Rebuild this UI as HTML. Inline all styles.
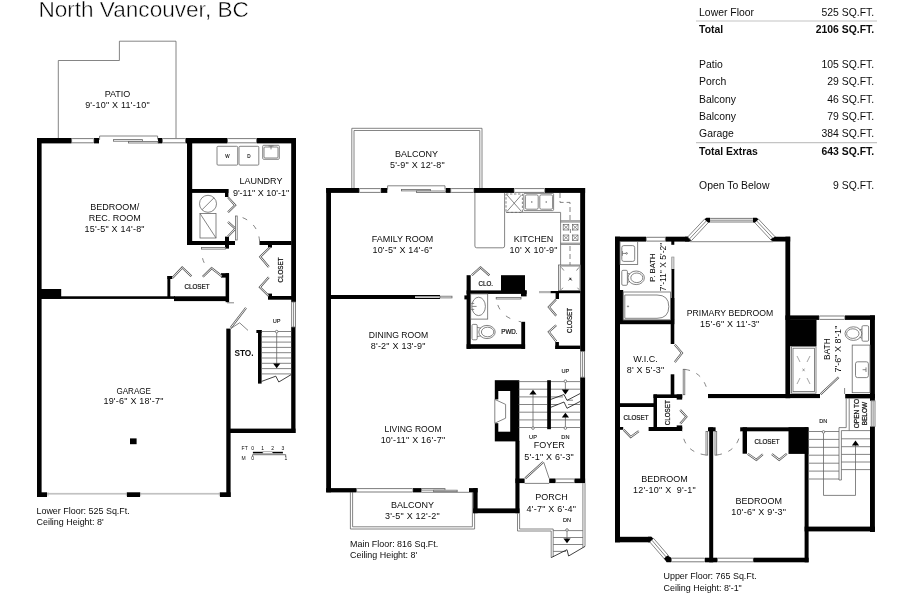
<!DOCTYPE html>
<html>
<head>
<meta charset="utf-8">
<title>Floor Plan</title>
<style>
html,body{margin:0;padding:0;background:#fff;}
body{width:910px;height:606px;overflow:hidden;position:relative;color:#fff;font-size:1px;line-height:1px;font-family:"Liberation Sans",sans-serif;}
svg{position:absolute;left:0;top:0;display:block;will-change:transform;opacity:0.999;}
svg text{font-family:"Liberation Sans",sans-serif;fill:#0c0c0c;}
.w{fill:#000;}
.t{fill:none;stroke:#666;stroke-width:0.8;}
.tw{fill:#fff;stroke:#666;stroke-width:0.8;}
.wn{fill:#fff;stroke:#444;stroke-width:0.7;}
.lf{fill:none;stroke:#555;stroke-width:2.1;stroke-linejoin:miter;}
.lw{fill:none;stroke:#fff;stroke-width:0.9;stroke-linejoin:miter;}
.k{fill:none;stroke:#111;stroke-width:0.9;}
.d{fill:none;stroke:#666;stroke-width:0.8;stroke-dasharray:3 3;}
.r{font-size:9px;text-anchor:middle;}
.rd{font-size:9px;text-anchor:middle;letter-spacing:0.22px;}
.s{font-size:7.2px;text-anchor:middle;stroke:#1a1a1a;stroke-width:0.22;}
.x{font-size:5.6px;text-anchor:middle;stroke:#1a1a1a;stroke-width:0.12;}
.c{font-size:9.6px;}
.tb{font-size:11.2px;}
.tr{font-size:11.2px;text-anchor:end;}
.b{font-weight:bold;}
</style>
</head>
<body>
<svg width="910" height="606" viewBox="0 0 910 606">
<rect x="0" y="0" width="910" height="606" fill="#fff"/>

<!-- TITLE -->
<text x="38.4" y="17.1" font-size="21.2" textLength="210.4" lengthAdjust="spacingAndGlyphs" style="fill:#000;stroke:#fff;stroke-width:0.45">North Vancouver, BC</text>

<!-- TABLE -->
<g id="table">
<line x1="696" y1="21" x2="877" y2="21" stroke="#c4c4c4" stroke-width="1.2"/>
<line x1="696" y1="142.7" x2="877" y2="142.7" stroke="#c4c4c4" stroke-width="1.2"/>
<g transform="scale(0.93,1)">
<text class="tb" x="751.7" y="16">Lower Floor</text><text class="tr" x="939.9" y="16">525 SQ.FT.</text>
<text class="tb b" x="751.7" y="33.5">Total</text><text class="tr b" x="939.9" y="33.5">2106 SQ.FT.</text>
<text class="tb" x="751.7" y="67.7">Patio</text><text class="tr" x="939.9" y="67.7">105 SQ.FT.</text>
<text class="tb" x="751.7" y="85.4">Porch</text><text class="tr" x="939.9" y="85.4">29 SQ.FT.</text>
<text class="tb" x="751.7" y="102.6">Balcony</text><text class="tr" x="939.9" y="102.6">46 SQ.FT.</text>
<text class="tb" x="751.7" y="119.9">Balcony</text><text class="tr" x="939.9" y="119.9">79 SQ.FT.</text>
<text class="tb" x="751.7" y="137.3">Garage</text><text class="tr" x="939.9" y="137.3">384 SQ.FT.</text>
<text class="tb b" x="751.7" y="155.2">Total Extras</text><text class="tr b" x="939.9" y="155.2">643 SQ.FT.</text>
<text class="tb" x="751.7" y="189.1">Open To Below</text><text class="tr" x="939.9" y="189.1">9 SQ.FT.</text>
</g>
</g>

<g id="lower">
<!-- patio -->
<polyline class="t" points="58.3,138 58.3,60.5 119.4,60.5 119.4,41.2 176,41.2 176,138"/>
<!-- exterior walls -->
<rect class="w" x="37" y="138" width="4.6" height="359"/>
<rect class="w" x="37" y="138" width="34.6" height="5.4"/>
<rect class="w" x="94" y="138" width="5" height="5.4"/>
<rect class="w" x="158" y="138" width="4.4" height="5.4"/>
<rect class="w" x="185.5" y="138" width="42" height="5.4"/>
<rect class="w" x="256.6" y="138" width="39.4" height="5.4"/>
<rect class="w" x="291.2" y="138" width="4.8" height="164"/>
<rect class="w" x="291.2" y="327" width="4.3" height="106"/>
<!-- windows top -->
<rect class="wn" rx="0.8" x="71.6" y="138.6" width="22.4" height="4.2"/>
<rect class="wn" rx="0.8" x="162.4" y="138.6" width="23.1" height="4.2"/>
<rect class="wn" rx="0.8" x="227.5" y="138.6" width="29.1" height="4.2"/>
<!-- sliding door -->
<polyline class="t" points="99,139.5 99.6,139.5 99.6,136 157.6,136 157.6,139.5"/>
<rect class="tw" x="113.5" y="139.6" width="29" height="1.6"/>
<rect class="tw" x="128.5" y="141.4" width="29.5" height="1.6"/>
<!-- right window -->
<rect class="tw" x="291.7" y="302" width="3.8" height="25"/><line class="t" x1="293.6" y1="302" x2="293.6" y2="327"/>
<!-- interior -->
<rect class="w" x="187" y="138" width="5.2" height="107"/>
<rect class="w" x="192" y="189" width="36.4" height="3.9"/>
<rect class="w" x="225" y="189" width="3.4" height="8"/>
<rect class="w" x="187" y="241" width="48" height="4"/>
<rect class="w" x="225" y="236.6" width="4" height="12"/>
<rect class="w" x="259.5" y="241" width="32" height="4"/>
<rect class="w" x="268" y="244" width="4" height="3.6"/>
<rect class="w" x="268" y="296" width="24" height="3.7"/>
<rect class="w" x="268" y="293.6" width="4" height="4"/>
<rect class="w" x="167.4" y="276" width="2.9" height="21"/>
<rect class="w" x="167.4" y="276" width="5" height="3"/>
<rect class="w" x="225.6" y="273.2" width="3.5" height="29"/>
<rect class="w" x="221" y="273.2" width="8" height="4.4"/>
<rect class="w" x="174" y="296.3" width="55" height="4.8"/>
<rect class="w" x="41" y="296.3" width="134" height="2.6"/>
<rect class="w" x="41" y="289" width="20.2" height="9.8"/>
<rect class="w" x="226.3" y="328.6" width="4.3" height="168.4"/>
<rect class="w" x="37" y="492.3" width="10" height="4.7"/>
<rect class="w" x="127" y="492.3" width="13" height="4.7"/>
<rect class="w" x="220" y="492.3" width="10.6" height="4.7"/>
<rect class="w" x="130" y="438.4" width="6.6" height="5.8"/>
<rect class="w" x="230" y="428.6" width="65.5" height="4.4"/>
<rect class="w" x="258" y="330" width="3.6" height="53.6"/>
<rect class="w" x="256.4" y="330" width="5.2" height="3"/>
<!-- garage doors -->
<rect x="47" y="492.9" width="80" height="1.7" fill="#c2c2c2"/>
<rect x="140" y="492.9" width="80" height="1.7" fill="#c2c2c2"/>
<path class="t" d="M48,492.3 v4 M126.4,492.3 v4 M140.6,492.3 v4 M219.4,492.3 v4" style="stroke-width:0.6;stroke:#999"/>
<!-- washer/dryer/sink -->
<rect class="tw" x="217" y="146.3" width="20.7" height="18.8" rx="1"/>
<rect class="tw" x="239" y="146.3" width="19.8" height="18.8" rx="1"/>
<text class="x" x="227.3" y="157.6" style="font-size:4.6px">W</text>
<text class="x" x="249" y="157.6" style="font-size:4.6px">D</text>
<rect class="tw" x="262.7" y="145.3" width="16.6" height="14" rx="1"/>
<rect class="t" x="264" y="147" width="14" height="11" rx="1"/>
<path class="t" d="M268.5,146 h5 M271,146 v3.4"/>
<!-- water heater / furnace -->
<circle class="t" cx="208" cy="203.8" r="8.5"/>
<line class="t" x1="202" y1="209.8" x2="214" y2="197.8"/>
<rect class="t" x="200" y="213.5" width="16" height="24.5"/>
<line class="t" x1="200" y1="213.5" x2="216" y2="238"/>
<!-- mech bifold doors -->
<path class="lf" d="M228,197.4 L235.2,205.3 L228,212.2"/><path class="lw" d="M228,197.4 L235.2,205.3 L228,212.2"/><path class="lf" d="M228,222 L235.4,228.6 L227.8,236.6"/><path class="lw" d="M228,222 L235.4,228.6 L227.8,236.6"/>
<rect class="tw" x="235.4" y="216" width="1.8" height="24"/>
<!-- laundry door -->
<rect class="tw" x="201.5" y="247.4" width="24" height="1.7"/>
<path class="d" d="M201.5,249 Q 201.5,262 208,268" style="stroke-dasharray:0 9 5 20"/>
<path class="d" d="M242.6,217.6 Q 258,224 259.6,241" style="stroke-dasharray:5 8"/>
<!-- left closet bifold -->
<path class="lf" d="M172.6,277.8 L182.2,267.6 L191.4,276.2"/><path class="lw" d="M172.6,277.8 L182.2,267.6 L191.4,276.2"/><path class="lf" d="M202.8,276.8 L211.6,268.2 L221.8,276.2"/><path class="lw" d="M202.8,276.8 L211.6,268.2 L221.8,276.2"/>
<!-- right closet bifold -->
<path class="lf" d="M269.8,247.6 L260.2,256.8 L268.8,267"/><path class="lw" d="M269.8,247.6 L260.2,256.8 L268.8,267"/><path class="lf" d="M268.8,277.2 L259.9,287.2 L268.6,295.8"/><path class="lw" d="M268.8,277.2 L259.9,287.2 L268.6,295.8"/>
<!-- sto door -->
<path class="lf" d="M230.6,328 L246,307.8"/><path class="lw" d="M230.6,328 L246,307.8"/><path class="t" d="M231,328.4 l8.6,-5.6 l8.4,7.6"/><line class="t" x1="227" y1="302.8" x2="234" y2="302.8"/>
<!-- stairs -->
<path class="t" d="M261.6,331.5 H291.2 M261.6,336.8 H291.2 M261.6,342.1 H291.2 M261.6,347.4 H291.2 M261.6,352.7 H291.2 M261.6,358 H291.2 M261.6,363.3 H291.2 M261.6,368.6 H291.2 M261.6,373.9 H291.2"/>
<path class="k" d="M261.6,381.4 L275.8,376.2 L278.8,382 L291.2,374.6" style="stroke-width:0.8"/>
<line class="t" x1="276.7" y1="333" x2="276.7" y2="364"/>
<circle cx="276.7" cy="331.6" r="1.3" class="tw"/>
<path d="M273.1,363.4 h7.2 l-3.6,4.8 z" fill="#000"/>
<text class="x" x="276.7" y="323">UP</text>
<!-- labels -->
<text class="r" x="117.5" y="96.5">PATIO</text>
<text class="rd" x="117.5" y="108.1">9'-10" X 11'-10"</text>
<text class="r" x="114.7" y="210.3">BEDROOM/</text>
<text class="r" x="114.7" y="221.2">REC. ROOM</text>
<text class="rd" x="114.7" y="232.1">15'-5" X 14'-8"</text>
<text class="r" x="261" y="183.6">LAUNDRY</text>
<text class="rd" x="261" y="195.6" style="letter-spacing:0">9'-11" X 10'-1"</text>
<text class="s" transform="translate(197,289.2) scale(0.87,1)">CLOSET</text>
<text class="s" transform="translate(283,270) rotate(-90) scale(0.87,1)">CLOSET</text>
<text class="r b" transform="translate(244,356.4) scale(0.9,1)" style="font-size:9.2px">STO.</text>
<text class="r" transform="translate(133.7,393.6) scale(0.9,1)">GARAGE</text>
<text class="rd" x="133.5" y="404.4">19'-6" X 18'-7"</text>
<text class="c" transform="translate(36.5,513.6) scale(0.93,1)">Lower Floor: 525 Sq.Ft.</text>
<text class="c" transform="translate(36.5,525) scale(0.93,1)">Ceiling Height: 8'</text>
<!-- scale -->
<g font-size="5" style="fill:#222">
<text x="241.6" y="450" font-size="5">FT</text>
<text x="251.2" y="450" font-size="5">0</text><text x="261.3" y="450" font-size="5">1</text><text x="271.2" y="450" font-size="5">2</text><text x="281.4" y="450" font-size="5">3</text>
<text x="241.6" y="460" font-size="5">M</text><text x="251.2" y="460" font-size="5">0</text><text x="284.4" y="460" font-size="5">1</text>
</g>
<rect x="252.9" y="451.8" width="10" height="1.6" fill="#000"/>
<rect x="262.9" y="451.8" width="9.8" height="1.6" class="tw" style="stroke-width:0.5"/>
<rect x="272.6" y="451.8" width="10.3" height="1.6" fill="#000"/>
<path class="k" d="M252.6,456 V454.7 H285.7 V456" style="stroke-width:0.6"/>
</g>

<g id="main">
<!-- upper balcony -->
<polyline class="t" points="351.8,188 351.8,128.3 482,128.3 482,188"/>
<polyline class="t" points="354,188 354,130.5 479.8,130.5 479.8,188"/>
<!-- lower balcony -->
<polyline class="t" points="350.4,492.3 350.4,529 474.6,529 474.6,492.3"/>
<polyline class="t" points="352.6,492.3 352.6,526.8 472.4,526.8 472.4,492.3"/>
<!-- exterior walls -->
<rect class="w" x="326.2" y="188" width="4.8" height="304.3"/>
<rect class="w" x="326.2" y="188" width="33" height="4.9"/>
<rect class="w" x="381" y="188" width="6.3" height="4.9"/>
<rect class="w" x="445.7" y="188" width="5" height="4.9"/>
<rect class="w" x="474" y="188" width="40" height="4.9"/>
<rect class="w" x="544.8" y="188" width="40.3" height="4.9"/>
<rect class="w" x="580.2" y="188" width="4.9" height="163.4"/>
<rect class="w" x="580.2" y="377.2" width="4.9" height="105.8"/>
<!-- bottom wall -->
<rect class="w" x="326.2" y="488.1" width="30.4" height="4.3"/>
<rect class="w" x="413" y="488.1" width="8.4" height="4.3"/>
<rect class="w" x="469" y="488.1" width="8.6" height="4.3"/>
<rect class="w" x="473.2" y="488.1" width="4.4" height="25.1"/>
<rect class="w" x="473.2" y="508.4" width="46.3" height="4.8"/>
<rect class="w" x="515.4" y="441" width="4.1" height="72.2"/>
<!-- foyer bottom wall -->
<rect class="w" x="515.4" y="478.5" width="9.2" height="4.6"/>
<rect class="w" x="549.2" y="478.5" width="6.4" height="4.6"/>
<rect class="w" x="574.4" y="478.5" width="10.7" height="4.6"/>
<!-- windows -->
<rect class="wn" rx="0.8" x="359.2" y="188.6" width="21.8" height="3.8"/>
<rect class="wn" rx="0.8" x="450.7" y="188.6" width="23.3" height="3.8"/>
<rect class="wn" rx="0.8" x="514" y="188.6" width="30.8" height="3.8"/>
<rect class="wn" rx="0.8" x="356.6" y="488.6" width="56.4" height="3.4"/>
<rect class="wn" rx="0.8" x="555.6" y="479" width="18.8" height="3.6"/>
<rect class="tw" x="580.7" y="351.4" width="3.9" height="25.8"/><line class="t" x1="582.6" y1="351.4" x2="582.6" y2="377.2"/>
<!-- sliding door top -->
<polyline class="t" points="387.3,189.5 387.6,189.5 387.6,185.8 445,185.8 445,189.5"/>
<rect class="tw" x="401.5" y="189.4" width="29" height="1.5"/>
<rect class="tw" x="416.5" y="191" width="29" height="1.5"/>
<!-- sliding door bottom -->
<rect class="tw" x="421.4" y="488.6" width="23.6" height="1.5"/>
<rect class="tw" x="433.6" y="490.2" width="23.6" height="1.5"/>
<polyline class="t" points="421.4,492.3 469,492.3"/>
<!-- family/dining divider -->
<rect class="w" x="330" y="295" width="110" height="4"/>
<rect x="415" y="296.4" width="25" height="1.4" fill="#fff"/>
<rect class="tw" x="440" y="296.2" width="12" height="1.7"/>
<!-- kitchen -->
<path class="t" d="M474.9,192.9 V246 Q474.9,247.8 476.7,247.8 H502.8 Q504.6,247.8 504.6,246 V192.9"/>
<rect class="d" x="506" y="194" width="16.4" height="18.4" style="stroke-dasharray:2.4 1.6"/>
<path class="t" d="M507,195 L521.4,211.4 M521.4,195 L507,211.4"/>
<rect class="tw" x="523.8" y="193.4" width="29.8" height="17.2" rx="1"/>
<rect class="t" x="525.4" y="194.9" width="12.8" height="14.3" rx="1.4"/>
<rect class="t" x="539.8" y="194.9" width="12.8" height="14.3" rx="1.4"/>
<circle cx="531.8" cy="202" r="0.7" fill="#555"/><circle cx="546.2" cy="202" r="0.7" fill="#555"/>
<path class="t" d="M506,212.4 H560.6 V265"/>
<path class="t" d="M560.6,220.8 H580.2 M560.6,222 H580.2 M560.6,243.2 H580.2 M560.6,244.4 H580.2 M570.4,229 v4"/>
<g class="t" style="stroke-width:0.7">
<rect x="563.2" y="224.6" width="5.6" height="5.4"/><path d="M563.2,224.6 l5.6,5.4 M568.8,224.6 l-5.6,5.4"/>
<rect x="572.4" y="224.6" width="5.6" height="5.4"/><path d="M572.4,224.6 l5.6,5.4 M578,224.6 l-5.6,5.4"/>
<rect x="563.2" y="235" width="5.6" height="5.4"/><path d="M563.2,235 l5.6,5.4 M568.8,235 l-5.6,5.4"/>
<rect x="572.4" y="235" width="5.6" height="5.4"/><path d="M572.4,235 l5.6,5.4 M578,235 l-5.6,5.4"/>
</g>
<path class="d" d="M560,193 V202.4 H570 V220" style="stroke-dasharray:5 3"/>
<path class="d" d="M570,246 V265" style="stroke-dasharray:5 3"/>
<!-- fridge -->
<rect class="tw" x="558.6" y="265" width="21.6" height="25.6"/>
<rect class="t" x="560.2" y="266" width="20" height="24.6"/>
<path class="d" d="M561.4,267.4 L579,289.6 M579,267.4 L561.4,289.6" style="stroke-dasharray:4 9"/>
<text class="x" x="570.4" y="279.8" style="font-size:4px">x</text>
<!-- clo / pwd -->
<rect class="w" x="466.6" y="275.2" width="4.1" height="73.6"/>
<rect class="w" x="464.4" y="295.4" width="4" height="4"/>
<rect class="w" x="466.6" y="290.4" width="60" height="3.5"/>
<rect class="w" x="501" y="275.2" width="24" height="17"/>
<rect class="w" x="521" y="290.4" width="5.6" height="6"/>
<rect class="w" x="521.3" y="321.8" width="3.8" height="27"/>
<rect class="w" x="466.6" y="344.2" width="58.5" height="4.6"/>
<path class="lf" d="M471.8,275.2 L480.5,267.4 L489.4,275.4"/><path class="lw" d="M471.8,275.2 L480.5,267.4 L489.4,275.4"/>
<rect class="tw" x="496.2" y="297.4" width="24.8" height="1.6"/>
<path class="d" d="M496.4,299 Q 499,318 521,321.8" style="stroke-dasharray:5 9;stroke-dashoffset:-6"/>
<rect class="t" x="470.7" y="293.9" width="17" height="25.2"/>
<ellipse class="t" cx="478.6" cy="306.4" rx="6.8" ry="9.2"/>
<path class="t" d="M471.2,303.4 h3 M471.2,309.4 h3 M472,306.4 h4.6"/>
<rect class="t" x="472" y="324.4" width="5.2" height="15.4" rx="1.2"/>
<ellipse class="t" cx="487" cy="332" rx="8.2" ry="6.6"/>
<ellipse class="t" cx="487.6" cy="332" rx="6.2" ry="4.8"/>
<path class="t" d="M477.2,327.4 L481,328.2 M477.2,336.6 L481,335.8"/>
<!-- right closet -->
<rect x="539" y="291" width="12" height="2.2" fill="#b4b4b4"/>
<rect class="w" x="550.7" y="291" width="29.6" height="2.2"/>
<rect class="w" x="555.6" y="291" width="3.4" height="8"/>
<rect class="w" x="555.3" y="345.6" width="25" height="3.4"/>
<rect class="w" x="555.3" y="342" width="3.6" height="7"/>
<path class="lf" d="M556,299.6 L548.8,307 L556.2,315.8"/><path class="lw" d="M556,299.6 L548.8,307 L556.2,315.8"/><path class="lf" d="M556.2,325.2 L548.8,331.8 L556.2,341.4"/><path class="lw" d="M556.2,325.2 L548.8,331.8 L556.2,341.4"/>
<!-- fireplace -->
<rect class="w" x="494.8" y="380.2" width="24.5" height="61.2"/>
<rect x="498.3" y="391" width="11.9" height="40.7" fill="#fff"/>
<rect x="494" y="399.4" width="5" height="23.8" fill="#fff"/>
<path class="t" d="M494.8,399.4 L505.6,404.4 V418.2 L494.8,423.2 Z"/>
<!-- stairs main -->
<path class="t" d="M518.6,381.6 H580.2 M518.6,389.2 H580.2 M518.6,396.9 H547.2 M518.6,404.5 H547.2 M518.6,412.2 H580.2 M518.6,419.9 H580.2 M518.6,427.5 H580.2"/>
<path class="t" d="M550.8,396.9 H563 M550.8,404.5 H558 M567.4,400.2 H573 M568,404.5 H580.2"/>
<rect class="w" x="547.2" y="380.2" width="3.7" height="49"/>
<path class="k" d="M550.8,399.4 L564,394.5 L567,400.4 L580.2,393.5 M550.8,407.3 L564,402 L567,408.3 L580.2,401.4" style="stroke-width:0.8"/>
<line class="t" x1="533" y1="394" x2="533" y2="427"/>
<circle class="tw" cx="533" cy="428.1" r="1.3"/>
<path d="M529.4,394.6 h7.2 l-3.6,-4.8 z" fill="#000"/>
<line class="t" x1="565.4" y1="382.4" x2="565.4" y2="390"/>
<circle class="tw" cx="565.4" cy="381.2" r="1.3"/>
<path d="M561.8,389.6 h7.2 l-3.6,4.8 z" fill="#000"/>
<line class="t" x1="565.4" y1="417" x2="565.4" y2="427"/>
<circle class="tw" cx="565.4" cy="428.1" r="1.3"/>
<path d="M561.8,417.6 h7.2 l-3.6,-4.8 z" fill="#000"/>
<text class="x" x="533" y="438.8">UP</text>
<text class="x" x="565.4" y="438.8">DN</text>
<text class="x" x="565.4" y="372.8">UP</text>
<!-- front door -->
<path class="lf" d="M525.2,478.4 L543.2,462"/><path class="lw" d="M525.2,478.4 L543.2,462"/><path class="t" d="M543.8,462.4 L549.2,478.5"/>
<line class="t" x1="524.6" y1="483.4" x2="549.2" y2="483.4"/>
<!-- porch -->
<path class="t" d="M517.5,513.2 V531 H551.2 V557.6 M519.6,513.2 V529 H553.2 V557"/>
<path class="t" d="M582.9,483.1 V547.4 M585,483.1 V546.4"/>
<path class="t" d="M553.2,530.6 H582.9 M553.2,537.5 H582.9 M553.2,544.5 H582.9 M553.2,551.4 H566"/>
<path class="k" d="M551.2,557.6 L567,549.7 L568.6,556 L585,546.4" style="stroke-width:0.8"/>
<line class="t" x1="567" y1="531.4" x2="567" y2="539"/>
<circle class="tw" cx="567" cy="530" r="1.3"/>
<path d="M563.4,538.4 h7.2 l-3.6,4.8 z" fill="#000"/>
<text class="x" x="567" y="522">DN</text>
<!-- labels -->
<text class="r" x="416.4" y="157">BALCONY</text>
<text class="rd" x="417.4" y="168.4">5'-9" X 12'-8"</text>
<text class="r" x="402.5" y="241.6">FAMILY ROOM</text>
<text class="rd" x="402.5" y="252.6">10'-5" X 14'-6"</text>
<text class="r" x="533.6" y="241.6">KITCHEN</text>
<text class="rd" x="533.6" y="252.6">10' X 10'-9"</text>
<text class="s" transform="translate(485.8,285.6) scale(0.87,1)">CLO.</text>
<text class="s" transform="translate(509.4,334.4) scale(0.87,1)">PWD.</text>
<text class="s" transform="translate(571.6,320.4) rotate(-90) scale(0.87,1)">CLOSET</text>
<text class="r" transform="translate(398.5,337.8) scale(0.96,1)">DINING ROOM</text>
<text class="rd" x="398.2" y="349.2">8'-2" X 13'-9"</text>
<text class="r" transform="translate(413,432) scale(0.955,1)">LIVING ROOM</text>
<text class="rd" x="413" y="442.8">10'-11" X 16'-7"</text>
<text class="r" x="549.2" y="448.1">FOYER</text>
<text class="rd" x="549.2" y="460">5'-1" X 6'-3"</text>
<text class="r" x="551.4" y="500.1">PORCH</text>
<text class="rd" x="551.4" y="511.8">4'-7" X 6'-4"</text>
<text class="r" x="412.4" y="507.6">BALCONY</text>
<text class="rd" x="412.4" y="519.2">3'-5" X 12'-2"</text>
<text class="c" transform="translate(350,546.6) scale(0.93,1)">Main Floor: 816 Sq.Ft.</text>
<text class="c" transform="translate(350,558) scale(0.93,1)">Ceiling Height: 8'</text>
</g>

<g id="upper">
<!-- exterior walls -->
<rect class="w" x="615" y="236.7" width="5" height="305.6"/>
<rect class="w" x="615" y="290" width="8.2" height="30"/>
<rect class="w" x="615" y="236.7" width="31.2" height="4.9"/>
<rect class="w" x="665.4" y="236.7" width="24" height="4.9"/>
<polygon class="w" points="685,236.7 688,236.7 692.6,239.2 690,241.6 685,241.6"/>
<rect class="wn" rx="0.8" x="646.2" y="237.3" width="19.2" height="3.8"/>
<!-- bay window -->
<polygon class="tw" points="687.7,237 705.1,218.5 708.8,222 691.4,240.7"/>
<line class="t" x1="689.5" y1="238.9" x2="707" y2="220.2"/>
<polygon class="tw" points="775.3,237 757.9,218.5 754.2,222 771.6,240.7"/>
<line class="t" x1="773.5" y1="238.9" x2="756" y2="220.2"/>
<rect class="wn" rx="0.8" x="709.6" y="218.4" width="43.8" height="3.6"/>
<line class="t" x1="709.6" y1="220.2" x2="753.4" y2="220.2"/>
<polygon class="w" points="704.6,219.4 706.4,217.8 710,217.8 710,222.4 708,222.6"/>
<polygon class="w" points="758.4,219.4 756.6,217.8 753,217.8 753,222.4 755,222.6"/>
<line class="t" x1="690" y1="241.7" x2="773" y2="241.7"/>
<polygon class="w" points="770.4,239.2 775,236.7 790.2,236.7 790.2,241.6 773,241.6"/>
<rect class="w" x="785.4" y="236.7" width="4.8" height="161.5"/>
<!-- bath walls -->
<rect class="w" x="785.4" y="315.4" width="33.6" height="4.5"/>
<rect class="w" x="844.9" y="315.4" width="30" height="4.5"/>
<rect class="wn" rx="0.8" x="819" y="316" width="25.9" height="3.4"/>
<rect class="w" x="870" y="315.4" width="4.9" height="85.4"/>
<rect class="w" x="870" y="426.5" width="4.9" height="105.5"/>
<rect class="tw" x="871.2" y="400.8" width="3.8" height="25.7"/><line class="t" x1="873.1" y1="400.8" x2="873.1" y2="426.5"/>
<rect class="w" x="790" y="319.8" width="26.5" height="26.4"/>
<rect class="w" x="708" y="394" width="112" height="4.1"/>
<rect class="w" x="845.2" y="394" width="29.7" height="4.4"/>
<line class="t" x1="844.6" y1="388" x2="844.6" y2="394"/>
<!-- shower -->
<rect class="tw" x="791.4" y="346.6" width="24.6" height="46.6"/>
<rect class="t" x="793" y="348.2" width="21.4" height="43.4"/>
<path class="t" d="M797,356 l3,6 M810,356 l-3,6 M797,384 l3,-6 M810,384 l-3,-6 M802.6,368.6 l2,2.6 M804.6,368.6 l-2,2.6" style="stroke-width:0.6"/>
<!-- bath door -->
<path class="lf" d="M820.6,394.2 L838.6,377.2"/><path class="lw" d="M820.6,394.2 L838.6,377.2"/>
<!-- bath vanity/toilet -->
<rect class="t" x="852.2" y="345.1" width="17.8" height="47.6"/>
<rect class="t" x="855.5" y="361.8" width="12.9" height="15.8" rx="2"/>
<path class="t" d="M866,367.4 v4.6 M862.6,369.7 h3.4"/>
<rect class="t" x="862" y="325.7" width="6.6" height="15.5" rx="1.2"/>
<ellipse class="t" cx="853.4" cy="333.6" rx="8.4" ry="6.8"/>
<ellipse class="t" cx="852.8" cy="333.6" rx="6.2" ry="4.8"/>
<path class="t" d="M862,329 L859.4,330 M862,338.2 L859.4,337.2"/>
<!-- p.bath -->
<rect class="w" x="671.3" y="241" width="3" height="3.8"/>
<rect x="671.7" y="257" width="2.3" height="12.4" fill="#d0d0d0" stroke="#888" stroke-width="0.6"/>
<rect class="w" x="671.5" y="269" width="2.8" height="51"/>
<rect class="w" x="670.7" y="298" width="3.6" height="46"/>
<rect class="w" x="670.7" y="374.3" width="3.6" height="21"/>
<rect class="w" x="619" y="319.8" width="55.3" height="4.4"/>
<rect class="t" x="620" y="241.6" width="17.7" height="22.8"/>
<rect class="t" x="621.8" y="245.6" width="12.9" height="15.8" rx="2"/>
<path class="t" d="M622.4,251 v4.8 M622.4,253.4 h3.6"/><circle class="t" cx="626.6" cy="253.4" r="0.8"/>
<rect class="t" x="621.8" y="270.3" width="5.6" height="15" rx="1.2"/>
<ellipse class="t" cx="636.2" cy="277.8" rx="8.2" ry="6.8"/>
<ellipse class="t" cx="636.8" cy="277.8" rx="6" ry="4.8"/>
<path class="t" d="M627.4,273.2 L630,274.2 M627.4,282.4 L630,281.4"/>
<rect class="t" x="623.2" y="292" width="47.2" height="28"/>
<path class="t" d="M624.8,295 H657 Q668.8,295 668.8,306.6 Q668.8,318.3 657,318.3 H624.8 Z"/>
<circle class="t" cx="628" cy="306.4" r="0.6"/>
<!-- wic -->
<path class="lf" d="M674.8,344.6 L682,353 L674.8,362.2"/><path class="lw" d="M674.8,344.6 L682,353 L674.8,362.2"/>
<rect class="w" x="619" y="403.2" width="35.5" height="3.8"/>
<rect class="w" x="653.5" y="394.4" width="3.5" height="36.6"/>
<rect class="w" x="653.5" y="394.4" width="28.7" height="3.6"/>
<rect class="w" x="676.7" y="394.4" width="5.5" height="5.2"/>
<rect class="w" x="648.6" y="427" width="33.6" height="4"/>
<rect class="w" x="676.7" y="425.4" width="5.5" height="4"/>
<rect class="w" x="619" y="427" width="4.2" height="2.8"/>
<!-- primary bedroom door -->
<rect class="tw" x="683.2" y="369.3" width="1.6" height="25.4"/>
<path class="d" d="M685,369.4 Q 704,372 708,393.6" style="stroke-dasharray:5 7"/>
<!-- closets bifold -->
<path class="lf" d="M623.6,429.8 L630.7,437 L638.8,431.2"/><path class="lw" d="M623.6,429.8 L630.7,437 L638.8,431.2"/><path class="lf" d="M680.2,410 L686.4,416.7 L680.2,423.8"/><path class="lw" d="M680.2,410 L686.4,416.7 L680.2,423.8"/>
<!-- bedroom divider -->
<rect class="w" x="709.2" y="427.3" width="4" height="135"/>
<rect class="w" x="708" y="427.3" width="7.6" height="4"/>
<rect class="tw" x="706" y="431.5" width="1.7" height="23.6"/>
<rect class="tw" x="715" y="431.5" width="1.7" height="23.6"/>
<path class="d" d="M705.8,455 Q 684,452 682.4,431.6" style="stroke-dasharray:5 7"/>
<path class="d" d="M716.8,455 Q 738,452 740.4,431.6" style="stroke-dasharray:5 7"/>
<!-- bedroom 2 closet -->
<rect class="w" x="740.2" y="427.3" width="68" height="4"/>
<rect class="w" x="742.6" y="427.3" width="4.4" height="26.4"/>
<rect class="w" x="788.5" y="427.3" width="19.7" height="26.6"/>
<rect class="w" x="804.6" y="427.3" width="4" height="135"/>
<path class="lf" d="M747.8,453.8 L756.4,459.8 L762.8,454.2"/><path class="lw" d="M747.8,453.8 L756.4,459.8 L762.8,454.2"/><path class="lf" d="M771.9,454.2 L779.2,459.8 L786.8,453.8"/><path class="lw" d="M771.9,454.2 L779.2,459.8 L786.8,453.8"/>
<!-- bottom walls -->
<rect class="w" x="615" y="536.8" width="36" height="5.5"/>
<polygon class="w" points="648,536.8 651.6,536.8 654,539.4 650,542.3 648,542.3"/>
<polygon class="tw" points="649.8,542 653.6,538.4 668.6,555.8 664.8,559.4"/>
<line class="t" x1="651.8" y1="540.1" x2="666.6" y2="557.5"/>
<polygon class="w" points="664,558.4 667.4,555.4 671.4,557.7 671.4,562.3 666.6,562.3"/>
<rect class="wn" rx="0.8" x="671.4" y="558.2" width="33.6" height="3.6"/>
<rect class="w" x="705" y="557.7" width="12.4" height="4.6"/>
<rect class="wn" rx="0.8" x="717.4" y="558.2" width="36" height="3.6"/>
<rect class="w" x="753.4" y="557.7" width="55.2" height="4.6"/>
<rect class="w" x="804.6" y="526.6" width="70.3" height="4.8"/>
<!-- stairs upper -->
<path class="t" d="M808.6,431.5 H839 M808.6,439.4 H839 M808.6,447.3 H839 M808.6,455.2 H839 M808.6,463.2 H839 M808.6,471.1 H839 M808.6,479 H839"/>
<path class="t" d="M841.4,438.8 H870 M841.4,446.7 H870 M841.4,454.4 H870 M841.4,462 H870 M841.4,469.6 H870"/>
<path class="t" d="M846.2,398.2 V427.6 H839 V480 H841.4 V430.6 H870 M849.2,398.2 V430.6"/>
<path class="t" d="M823.5,433.2 V495.4 H855.5 V445"/>
<circle class="tw" cx="823.5" cy="431.9" r="1.3"/>
<path d="M851.9,445.4 h7.2 l-3.6,-4.8 z" fill="#000"/>
<text class="x" x="823.3" y="422.6">DN</text>
<!-- labels -->
<text class="s" transform="translate(654.9,267.7) rotate(-90) scale(0.95,1)" style="font-size:8.1px;stroke-width:0.1">P. BATH</text>
<text class="s" transform="translate(665.6,267) rotate(-90) scale(0.97,1)" style="font-size:8.8px;stroke-width:0">7'-11" X 5'-2"</text>
<text class="r" transform="translate(730,315.8) scale(0.965,1)">PRIMARY BEDROOM</text>
<text class="rd" x="729.8" y="327.2">15'-6" X 11'-3"</text>
<text class="r" x="645.6" y="361.6">W.I.C.</text>
<text class="rd" x="645.6" y="372.6">8' X 5'-3"</text>
<text class="s" transform="translate(636,419.6) scale(0.87,1)">CLOSET</text>
<text class="s" transform="translate(669.6,412.8) rotate(-90) scale(0.87,1)">CLOSET</text>
<text class="s" transform="translate(767,444.4) scale(0.87,1)">CLOSET</text>
<text class="r" x="664.4" y="482.2">BEDROOM</text>
<text class="rd" x="664.4" y="493.2">12'-10" X&#160;&#160;9'-1"</text>
<text class="r" x="758.8" y="504">BEDROOM</text>
<text class="rd" x="758.8" y="515.2">10'-6" X 9'-3"</text>
<text class="r" transform="translate(829.7,349.1) rotate(-90) scale(0.93,1)">BATH</text>
<text class="r" transform="translate(841,349.1) rotate(-90)">7'-6" X 8'-1"</text>
<text class="s" transform="translate(859,413.6) rotate(-90) scale(1.0,1)" style="font-size:6.6px">OPEN TO</text>
<text class="s" transform="translate(867.3,413.6) rotate(-90) scale(0.98,1)" style="font-size:6.6px">BELOW</text>
<text class="c" transform="translate(663.5,579.4) scale(0.93,1)">Upper Floor: 765 Sq.Ft.</text>
<text class="c" transform="translate(663.5,591.2) scale(0.93,1)">Ceiling Height: 8'-1"</text>
</g>

</svg>
</body>
</html>
